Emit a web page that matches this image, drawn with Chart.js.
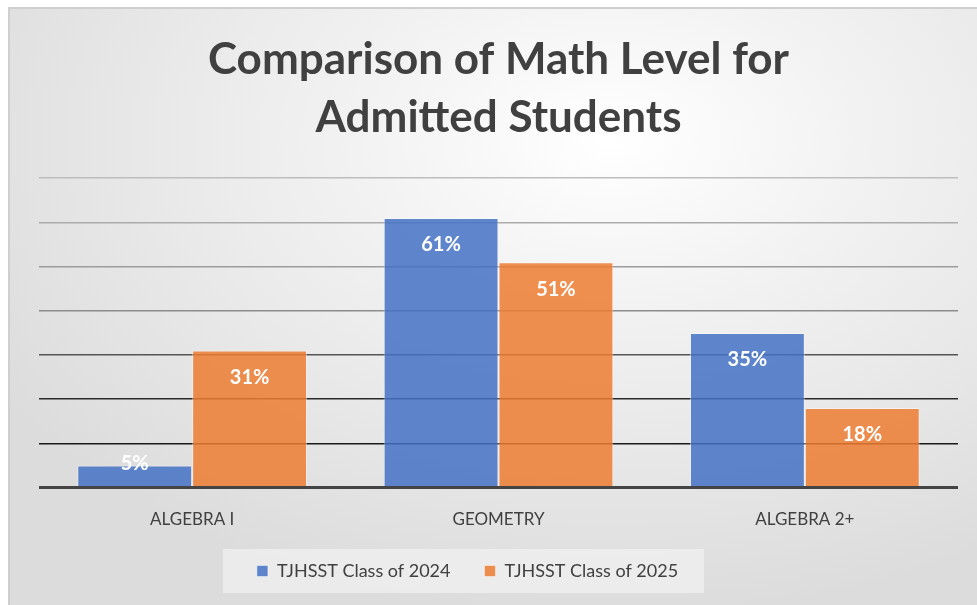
<!DOCTYPE html>
<html><head><meta charset="utf-8">
<script src="https://cdn.jsdelivr.net/npm/chart.js@4"></script>
<style>
html,body{margin:0;padding:0;background:#fff;width:977px;height:605px;overflow:hidden}
#wrap{position:absolute;left:8px;top:7px;width:969px;height:598px;box-sizing:border-box;border-left:2px solid #cfcfcf;border-top:2px solid #cfcfcf;
background:radial-gradient(ellipse 75% 80% at 62% 22%, #ffffff 0%, #f2f2f2 35%, #dcdcdc 100%);}
#c{position:absolute;left:-2px;top:-2px}
</style></head><body>
<div id="wrap"><canvas id="c" width="969" height="598"></canvas></div>
<script>
const titleLines = ['Comparison of Math Level for', 'Admitted Students'];
const categories = ['ALGEBRA I', 'GEOMETRY', 'ALGEBRA 2+'];
const seriesNames = ['TJHSST Class of 2024', 'TJHSST Class of 2025'];
const class2024 = [5, 61, 35];
const class2025 = [31, 51, 18];
const yTicks = [0, 10, 20, 30, 40, 50, 60, 70];

const FONT = 'Lato, "Open Sans", sans-serif';
const gridColors = {70:'#bdbdbd',60:'#ababab',50:'#9c9c9c',40:'#8c8c8c',30:'#555555',20:'#2a2a2a',10:'#1a1a1a',0:'#444444'};
const LEGEND_SHIFT = 31;

const labelPlugin = {
  id: 'labels',
  afterDatasetsDraw(chart) {
    const ctx = chart.ctx;
    const base = chart.scales.y.getPixelForValue(0);
    ctx.save();
    ctx.font = 'bold 20px ' + FONT;
    ctx.fillStyle = '#ffffff';
    ctx.textAlign = 'center';
    ctx.textBaseline = 'middle';
    chart.data.datasets.forEach((ds, i) => {
      chart.getDatasetMeta(i).data.forEach((bar, j) => {
        const y = Math.min(bar.y + 27, base - 24);
        ctx.fillText(ds.data[j] + '%', bar.x, y);
      });
    });
    ctx.restore();
  }
};
const legendShift = {
  id: 'legendShift',
  afterLayout(chart) {
    const lg = chart.legend;
    if (!lg) return;
    lg.left -= LEGEND_SHIFT; lg.right -= LEGEND_SHIFT;
    (lg.legendHitBoxes || []).forEach(h => { h.left -= LEGEND_SHIFT; });
  },
  beforeDraw(chart) {
    const lg = chart.legend;
    if (!lg || !lg.legendHitBoxes) return;
    const hb = lg.legendHitBoxes;
    let l = Infinity, r = -Infinity, t = Infinity, b = -Infinity;
    hb.forEach(h => { l = Math.min(l, h.left); r = Math.max(r, h.left + h.width); t = Math.min(t, h.top); b = Math.max(b, h.top + h.height); });
    const cy = (t + b) / 2;
    const ctx = chart.ctx;
    ctx.save();
    ctx.fillStyle = 'rgba(240,240,240,0.75)';
    ctx.fillRect(l - 34, cy - 22, (r - l) + 60, 44);
    ctx.restore();
  }
};

new Chart(document.getElementById('c'), {
  type: 'bar',
  data: {
    labels: categories,
    datasets: [
      { label: seriesNames[0], data: class2024, backgroundColor: 'rgba(68,114,196,0.85)', borderColor: 'rgba(255,255,255,0.45)', borderWidth: 1 },
      { label: seriesNames[1], data: class2025, backgroundColor: 'rgba(237,125,49,0.85)', borderColor: 'rgba(255,255,255,0.45)', borderWidth: 1 }
    ]
  },
  options: {
    responsive: false,
    animation: false,
    devicePixelRatio: 1,
    layout: { padding: { left: 31, right: 19, top: 0, bottom: 15 } },
    datasets: { bar: { categoryPercentage: 0.75, barPercentage: 1.0 } },
    plugins: {
      tooltip: { enabled: false },
      title: {
        display: true, text: titleLines, color: '#404040',
        font: { family: FONT, size: 44, weight: 'bold', lineHeight: 1.32 },
        padding: { top: 24, bottom: 31 }
      },
      legend: {
        position: 'bottom',
        labels: { color: '#404040', font: { family: FONT, size: 18 }, boxWidth: 11, boxHeight: 11, padding: 34 }
      }
    },
    scales: {
      x: {
        grid: { display: false },
        border: { display: false },
        ticks: { color: '#404040', font: { family: FONT, size: 17 }, padding: 14 },
        afterFit(scale) { scale.height -= 16; }
      },
      y: {
        min: yTicks[0], max: yTicks[yTicks.length - 1],
        afterBuildTicks(axis) { axis.ticks = yTicks.map(v => ({ value: v })); },
        ticks: { display: false },
        border: { display: false },
        grid: {
          drawTicks: false,
          color: c => gridColors[c.tick.value] || '#888',
          lineWidth: c => c.tick.value === 0 ? 3 : 1.5
        }
      }
    }
  },
  plugins: [legendShift, labelPlugin]
});
</script>
</body></html>
